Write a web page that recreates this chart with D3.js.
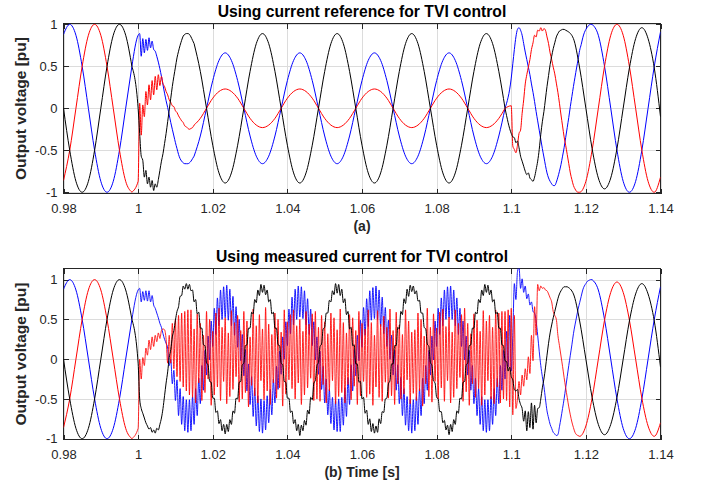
<!DOCTYPE html>
<html>
<head>
<meta charset="utf-8">
<script src="https://cdnjs.cloudflare.com/ajax/libs/d3/7.8.5/d3.min.js"></script>
<style>
  body { margin: 0; background: #fff; }
  svg { display: block; }
  text { font-family: "Liberation Sans", Arial, Helvetica, sans-serif; }
</style>
</head>
<body>
<svg id="chart" width="701" height="489"></svg>
<script>
// ---------------------------------------------------------------
// Three-phase output voltage [pu] around a fault (1.0 s - 1.1 s).
// Samples are stored per segment: [first sample index, step, values].
// Sample time = T0 + index * step.
// ---------------------------------------------------------------
const T0 = 0.98;
const COARSE = 1 / 600;   // 30 deg of the 50 Hz fundamental
const FINE = 1 / 2400;    // 7.5 deg, resolves the switching ripple

const xTicks = [0.98, 1, 1.02, 1.04, 1.06, 1.08, 1.1, 1.12, 1.14];
const yTicks = [-1, -0.5, 0, 0.5, 1];

const titles = ["Using current reference for TVI control", "Using measured current for TVI control"];
const xLabels = ["(a)", "(b) Time [s]"];
const yLabel = "Output voltage [pu]";

// pre-fault, 0.98 s .. 0.9983 s (both cases)
const preBlue = [0.88, 1, 0.87, 0.5, 0, -0.5, -0.87, -1, -0.87, -0.5, 0, 0.5];
const preRed = [-0.86, -0.5, 0, 0.5, 0.87, 1, 0.87, 0.5, 0, -0.5, -0.87, -1];
const preBlack = [0, -0.5, -0.87, -1, -0.87, -0.5, 0, 0.5, 0.87, 1, 0.87, 0.5];

// ---------- (a) current reference ----------
const aBlueOnset = [0.87, 0.89, 0.62, 0.83, 0.66, 0.82, 0.69, 0.84, 0.72, 0.80, 0.70, 0.68, 0.62, 0.55, 0.47, 0.38, 0.28, 0.18, 0.09, 0.01, -0.08, -0.17, -0.25, -0.33, -0.41, -0.48, -0.55, -0.60, -0.63, -0.65, -0.66, -0.66, -0.66, -0.65, -0.63, -0.60, -0.57];
const aRedOnset = [-0.87, 0.06, -0.32, 0.04, -0.10, 0.20, 0.04, 0.28, 0.10, 0.33, 0.16, 0.38, 0.22, 0.40, 0.27, 0.38, 0.29, 0.26, 0.20, 0.16, 0.10, 0.07, 0.03, 0.02, -0.03, -0.05, -0.09, -0.12, -0.15, -0.17, -0.21, -0.22, -0.24, -0.25, -0.24, -0.23, -0.20];
const aBlackOnset = [0, -0.30, -0.57, -0.62, -0.82, -0.74, -0.90, -0.82, -0.94, -0.86, -0.98, -0.90, -0.94, -0.85, -0.74, -0.63, -0.54, -0.42, -0.30, -0.16, -0.02, 0.12, 0.26, 0.38, 0.49, 0.60, 0.68, 0.75, 0.81, 0.86, 0.88, 0.89, 0.89, 0.88, 0.85, 0.81, 0.77];

const aBlueFault = [-0.33, 0, 0.33, 0.57, 0.66, 0.57, 0.33, 0, -0.33, -0.57, -0.66, -0.57,
  -0.33, 0, 0.33, 0.57, 0.66, 0.57, 0.33, 0, -0.33, -0.57, -0.66, -0.57,
  -0.33, 0, 0.33, 0.57, 0.66, 0.57, 0.33, 0, -0.33, -0.57, -0.66, -0.57,
  -0.33, 0, 0.33, 0.57, 0.66, 0.57, 0.33, 0, -0.33, -0.57, -0.66, -0.57,
  -0.33, 0];
const aRedFault = [-0.12, 0, 0.12, 0.2, 0.23, 0.2, 0.12, 0, -0.12, -0.2, -0.23, -0.2,
  -0.12, 0, 0.12, 0.2, 0.23, 0.2, 0.12, 0, -0.12, -0.2, -0.23, -0.2,
  -0.12, 0, 0.12, 0.2, 0.23, 0.2, 0.12, 0, -0.12, -0.2, -0.23, -0.2,
  -0.12, 0, 0.12, 0.2, 0.23, 0.2, 0.12, 0, -0.12, -0.2, -0.23, -0.2,
  -0.12, 0];
const aBlackFault = [0.44, 0, -0.44, -0.77, -0.89, -0.77, -0.44, 0, 0.44, 0.77, 0.89, 0.77,
  0.44, 0, -0.44, -0.77, -0.89, -0.77, -0.44, 0, 0.44, 0.77, 0.89, 0.77,
  0.44, 0, -0.44, -0.77, -0.89, -0.77, -0.44, 0, 0.44, 0.77, 0.89, 0.77,
  0.44, 0, -0.44, -0.77, -0.89, -0.77, -0.44, 0, 0.44, 0.77, 0.89, 0.77,
  0.44, 0];

const aBlueClear = [0.36, 0.53, 0.70, 0.85, 0.94, 0.96, 0.93, 0.87, 0.77, 0.67, 0.58, 0.49, 0.40, 0.29, 0.19, 0.08, -0.04, -0.15, -0.26, -0.37, -0.48, -0.58, -0.68, -0.77, -0.83, -0.87, -0.90, -0.92, -0.92, -0.88, -0.82, -0.75, -0.67, -0.57, -0.47, -0.35, -0.23, -0.11, 0.02, 0.14, 0.26, 0.37, 0.48, 0.58, 0.69, 0.76, 0.84, 0.90, 0.94, 0.97, 0.99, 1.0, 1.0];
const aRedClear = [0.03, -0.45, -0.49, -0.53, -0.44, -0.30, -0.26, -0.06, 0.10, 0.29, 0.40, 0.49, 0.58, 0.70, 0.78, 0.87, 0.85, 0.93, 0.92, 0.96, 0.92, 0.95, 0.93, 0.85, 0.77, 0.66, 0.58, 0.49, 0.41, 0.30, 0.19, 0.06, -0.08, -0.21, -0.34, -0.44, -0.55, -0.66, -0.77, -0.85, -0.92, -0.96, -0.99, -1.0];
const aBlackClear = [-0.30, -0.34, -0.35, -0.41, -0.39, -0.47, -0.57, -0.63, -0.69, -0.75, -0.79, -0.77, -0.83, -0.85, -0.87, -0.82, -0.73, -0.63, -0.49, -0.31, -0.16, -0.04, 0.11, 0.26, 0.39, 0.52, 0.62, 0.71, 0.78, 0.85, 0.89, 0.92, 0.93, 0.94, 0.94, 0.93, 0.92];

const aBluePost = [0.87, 0.5, 0, -0.5, -0.87, -1, -0.87, -0.5, 0, 0.5, 0.91];
const aRedPost = [-1, -0.87, -0.5, 0, 0.5, 0.87, 1, 0.87, 0.5, 0, -0.5, -0.87, -1, -0.82];
const aBlackPost = [0.83, 0.48, 0, -0.48, -0.83, -0.96, -0.83, -0.48, 0, 0.48, 0.83, 0.96, 0.83, 0.48, -0.1];

// ---------- (b) measured current ----------
const bBlueFault = [
  0.87, 0.89, 0.72, 0.85, 0.74, 0.86, 0.73, 0.86, 0.72, 0.80, 0.68, 0.64, 0.58, 0.52, 0.45, 0.40, 0.32, 0.25, 0.20, 0.14, -0.08, 0.00, -0.31, -0.14, -0.52, -0.26,
  -0.71, -0.37, -0.82, -0.47, -0.90, -0.51, -0.92, -0.51, -0.90, -0.47, -0.82, -0.37, -0.71, -0.24, -0.56, -0.08, -0.39, 0.11, -0.20, 0.29, -0.01, 0.48, 0.16, 0.64, 0.31, 0.77, 0.42, 0.87, 0.50, 0.91,
  0.52, 0.93, 0.49, 0.88, 0.42, 0.79, 0.30, 0.66, 0.15, 0.50, -0.02, 0.31, -0.21, 0.12, -0.40, -0.06, -0.57, -0.22, -0.72, -0.36, -0.84, -0.46, -0.91, -0.50,
  -0.93, -0.52, -0.89, -0.46, -0.80, -0.38, -0.70, -0.25, -0.55, -0.09, -0.38, 0.10, -0.19, 0.28, 0, 0.47, 0.17, 0.63, 0.32, 0.78, 0.43, 0.88, 0.50, 0.92,
  0.53, 0.91, 0.51, 0.86, 0.43, 0.76, 0.31, 0.63, 0.17, 0.47, -0.01, 0.28, -0.19, 0.10, -0.38, -0.09, -0.55, -0.25, -0.70, -0.38, -0.81, -0.48, -0.89, -0.52,
  -0.91, -0.50, -0.91, -0.48, -0.83, -0.36, -0.72, -0.23, -0.57, -0.07, -0.40, 0.12, -0.21, 0.30, -0.02, 0.49, 0.15, 0.65, 0.30, 0.76, 0.41, 0.86, 0.49, 0.90,
  0.51, 0.92, 0.50, 0.87, 0.41, 0.78, 0.32, 0.65, 0.16, 0.49, 0, 0.30, -0.20, 0.11, -0.39, -0.07, -0.56, -0.23, -0.71, -0.37, -0.83, -0.47, -0.90, -0.51,
  -0.93, -0.51, -0.90, -0.47, -0.82, -0.37, -0.71, -0.24, -0.56, -0.08, -0.39, 0.11, -0.20, 0.29, -0.01, 0.48, 0.16, 0.64, 0.31, 0.77, 0.42, 0.87, 0.50, 0.91,
  0.52, 0.92, 0.50, 0.87, 0.42, 0.77, 0.31, 0.64, 0.16, 0.48, -0.01, 0.29, -0.20, 0.11, -0.39, -0.08, -0.56, -0.24, -0.71, -0.37, -0.82, -0.47, -0.90, -0.51,
  -0.92, -0.51, -0.90, -0.47, -0.82, -0.37, -0.71, -0.24, -0.56, -0.08, -0.39, 0.11,
  -0.25, 0.35, -0.10, 0.55, -0.15, 0.30, 0.95, 0.75, 1.10, 1.16, 0.89, 1.01, 0.84, 0.92, 0.76, 0.82, 0.68, 0.72, 0.60, 0.58, 0.48, 0.30, 0.10, -0.08, -0.22, -0.34, -0.50, -0.65, -0.74, -0.82, -0.87, -0.92, -0.94, -0.96, -0.95, -0.85, -0.74, -0.62, -0.50, -0.36, -0.22, -0.08, 0.05, 0.18, 0.32, 0.43, 0.53, 0.63, 0.71, 0.79, 0.87, 0.92, 0.95, 0.98, 0.99, 1.0, 1.0];

const bRedFault = [
  -0.87, 0.00, -0.25, 0.02, -0.08, 0.14, 0.05, 0.24, 0.12, 0.28, 0.16, 0.30, 0.22, 0.33, 0.26, 0.36, 0.38, 0.37, 0.25, -0.05, 0.30, -0.05, 0.45, -0.12, 0.50, -0.22, 0.55, -0.28, 0.58, -0.35, 0.60, -0.40, 0.62,
  -0.45,
  0.62, -0.48, 0.38, -0.55, 0.57, -0.30, 0.45, -0.52, 0.30, -0.42, 0.60, -0.25, 0.50, -0.58, 0.35, -0.45,
  0.58, -0.35, 0.64, -0.52, 0.40, -0.28, 0.52, -0.56, 0.33, -0.47, 0.61, -0.38, 0.46, -0.22, 0.55, -0.54,
  0.36, -0.50, 0.60, -0.42, 0.48, -0.60, 0.28, -0.33, 0.63, -0.46, 0.42, -0.55, 0.56, -0.27, 0.38, -0.51,
  0.65, -0.40, 0.44, -0.57, 0.31, -0.30, 0.58, -0.49, 0.50, -0.36, 0.34, -0.59, 0.62, -0.44, 0.47, -0.26,
  0.56, -0.37, 0.62, -0.50, 0.42, -0.30, 0.50, -0.57, 0.35, -0.45, 0.60, -0.36, 0.44, -0.24, 0.57, -0.52,
  0.60, -0.50, 0.40, -0.53, 0.55, -0.32, 0.47, -0.55, 0.32, -0.40, 0.58, -0.27, 0.52, -0.56, 0.37, -0.47,
  0.63, -0.42, 0.46, -0.55, 0.33, -0.32, 0.56, -0.51, 0.52, -0.34, 0.36, -0.57, 0.60, -0.46, 0.45, -0.28,
  0.38, -0.48, 0.62, -0.44, 0.46, -0.58, 0.30, -0.35, 0.61, -0.48, 0.44, -0.53, 0.54, -0.29, 0.40, -0.49,
  0.63, -0.46, 0.36, -0.57, 0.59, -0.31, 0.43, -0.50, 0.31, -0.44, 0.62, -0.26, 0.48, -0.56, 0.34, -0.43,
  0.37, -0.52, 0.58, -0.40, 0.50, -0.59, 0.29, -0.31, 0.64, -0.47, 0.40, -0.54, 0.57, -0.28, 0.39, -0.50,
  0.59, -0.36, 0.63, -0.53, 0.41, -0.27, 0.53, -0.55, 0.34, -0.48, 0.62, -0.37, 0.45, -0.23, 0.56, -0.53,
  0.64, -0.41, 0.45, -0.58, 0.32, -0.31, 0.57, -0.48, 0.49, -0.37, 0.35, -0.58, 0.61, -0.45, 0.48, -0.27,
  0.55, -0.50, 0.40, -0.56, 0.62, -0.35, 0.58, -0.55, 0.60, -0.50,
  0.60, -0.52, 0.62, -0.60, 0.64, -0.70, 0.55, -0.62, -0.50, -0.28, -0.45, -0.20, -0.34, -0.12, -0.26, 0.03, -0.18, 0.30, -0.02, 0.66, 0.30, 0.94, 0.86, 0.92, 0.89, 0.90, 0.87, 0.86, 0.82, 0.77, 0.72, 0.60, 0.55, 0.50, 0.30, 0.17, 0.04, -0.09, -0.23, -0.36, -0.48, -0.60, -0.70, -0.79, -0.86, -0.92, -0.95, -0.96];

const bBlackFault = [
  -0.05, -0.50, -0.62, -0.68, -0.74, -0.80, -0.84, -0.88, -0.86, -0.92, -0.89, -0.93, -0.87, -0.89, -0.82, -0.74, -0.62, -0.46, -0.30, -0.16, 0.02, 0.12, 0.28, 0.36, 0.49, 0.60, 0.66, 0.79, 0.80, 0.92, 0.88, 0.95, 0.88, 0.94, 0.86, 0.87, 0.72,
  0.75, 0.57, 0.59, 0.39, 0.39, 0.18, 0.17, -0.05, -0.07, -0.28, -0.29, -0.49, -0.49, -0.67, -0.65, -0.81, -0.76, -0.90, -0.82,
  -0.94, -0.82, -0.91, -0.76, -0.82, -0.65, -0.68, -0.49, -0.50, -0.29, -0.28, -0.07, -0.05, 0.17, 0.18, 0.39, 0.39, 0.59, 0.57, 0.75, 0.71, 0.87, 0.80, 0.94,
  0.84, 0.93, 0.81, 0.87, 0.72, 0.75, 0.57, 0.59, 0.39, 0.39, 0.18, 0.17, -0.05, -0.07, -0.28, -0.29, -0.49, -0.49, -0.67, -0.65, -0.81, -0.76, -0.90, -0.82,
  -0.96, -0.83, -0.90, -0.77, -0.83, -0.64, -0.69, -0.48, -0.51, -0.30, -0.27, -0.08, -0.04, 0.16, 0.19, 0.38, 0.40, 0.58, 0.58, 0.74, 0.72, 0.86, 0.81, 0.95,
  0.83, 0.94, 0.80, 0.88, 0.71, 0.76, 0.56, 0.60, 0.38, 0.40, 0.17, 0.18, -0.06, -0.06, -0.29, -0.28, -0.50, -0.48, -0.68, -0.64, -0.82, -0.75, -0.91, -0.81,
  -0.93, -0.84, -0.92, -0.75, -0.81, -0.66, -0.67, -0.50, -0.49, -0.31, -0.27, -0.06, -0.06, 0.17, 0.17, 0.40, 0.38, 0.60, 0.56, 0.76, 0.70, 0.88, 0.79, 0.93,
  0.85, 0.92, 0.82, 0.86, 0.73, 0.74, 0.58, 0.58, 0.40, 0.38, 0.19, 0.16, -0.04, -0.08, -0.27, -0.30, -0.48, -0.50, -0.66, -0.66, -0.80, -0.77, -0.89, -0.83,
  -0.95, -0.82, -0.91, -0.76, -0.82, -0.65, -0.68, -0.49, -0.50, -0.29, -0.28, -0.07, -0.05, 0.17, 0.18, 0.39, 0.39, 0.59, 0.57, 0.75, 0.71, 0.87, 0.80, 0.94,
  0.84, 0.93, 0.81, 0.87, 0.72, 0.75, 0.57, 0.59, 0.39, 0.39, 0.18, 0.17,
  -0.02, -0.03, -0.15, -0.10, -0.22, -0.26, -0.38, -0.40, -0.38, -0.50, -0.57, -0.62, -0.78, -0.65, -0.90, -0.66, -0.86, -0.55, -0.88, -0.58, -0.80, -0.62, -0.61, -0.50, -0.36, -0.25, -0.11, 0.05, 0.20, 0.33, 0.43, 0.52, 0.60, 0.68, 0.76, 0.82, 0.86, 0.89, 0.91, 0.91, 0.91];

const bBluePost = [0.87, 0.5, 0, -0.5, -0.87, -1, -0.87, -0.5, 0, 0.5, 0.91];
const bRedPost = [-0.97, -0.84, -0.49, 0, 0.49, 0.84, 0.97, 0.84, 0.49, 0, -0.49, -0.84, -0.97, -0.80];
const bBlackPost = [0.82, 0.48, 0, -0.48, -0.82, -0.95, -0.82, -0.48, 0, 0.48, 0.82, 0.95, 0.82, 0.48, -0.1];

// segment lists: [first index, step, values]
const panelSeries = [
  [
    { color: "#0000ff", segs: [[0, COARSE, preBlue], [48, FINE, aBlueOnset], [22, COARSE, aBlueFault], [288, FINE, aBlueClear], [86, COARSE, aBluePost]] },
    { color: "#ff0000", segs: [[0, COARSE, preRed], [48, FINE, aRedOnset], [22, COARSE, aRedFault], [288, FINE, aRedClear], [83, COARSE, aRedPost]] },
    { color: "#000000", segs: [[0, COARSE, preBlack], [48, FINE, aBlackOnset], [22, COARSE, aBlackFault], [288, FINE, aBlackClear], [82, COARSE, aBlackPost]] }
  ],
  [
    { color: "#0000ff", rippleWidth: 0.9, segs: [[0, COARSE, preBlue], [48, FINE, bBlueFault], [86, COARSE, bBluePost]] },
    { color: "#ff0000", rippleWidth: 0.85, segs: [[0, COARSE, preRed], [48, FINE, bRedFault], [83, COARSE, bRedPost]] },
    { color: "#000000", rippleWidth: 1, segs: [[0, COARSE, preBlack], [48, FINE, bBlackFault], [82, COARSE, bBlackPost]] }
  ]
];

// one list of [t, v] points per segment; each piece starts where the previous one ended
function toPieces(segs) {
  const pieces = [];
  let last = null;
  segs.forEach(([from, step, vals]) => {
    const pts = last ? [last] : [];
    vals.forEach((v, i) => pts.push([T0 + (from + i) * step, v]));
    pieces.push({ step, pts });
    last = pts[pts.length - 1];
  });
  return pieces;
}

// ---------------------------------------------------------------
const svg = d3.select("#chart");
const AXIS = "#262626", GRID = "#dcdcdc";
const left = 63.5, right = 660.5;
const x = d3.scaleLinear().domain([0.98, 1.14]).range([left, right]);
const fmt = v => String(+v.toFixed(2));

const layout = [
  { top: 23.5, bottom: 193.5, yDomain: [-1.015, 1.01] },
  { top: 268.5, bottom: 439.5, yDomain: [-1.01, 1.14] }
];

layout.forEach((L, pi) => {
  const y = d3.scaleLinear().domain(L.yDomain).range([L.bottom, L.top]);
  const g = svg.append("g");
  const h = L.bottom - L.top, w = right - left;

  // grid
  g.append("g").attr("transform", `translate(0,${L.bottom})`)
    .call(d3.axisBottom(x).tickValues(xTicks).tickSize(-h).tickFormat(""))
    .call(s => { s.select(".domain").remove(); s.selectAll("line").attr("stroke", GRID).attr("shape-rendering", "crispEdges"); });
  g.append("g").attr("transform", `translate(${left},0)`)
    .call(d3.axisLeft(y).tickValues(yTicks).tickSize(-w).tickFormat(""))
    .call(s => { s.select(".domain").remove(); s.selectAll("line").attr("stroke", GRID).attr("shape-rendering", "crispEdges"); });

  // box and inward ticks
  const styleAxis = s => {
    s.select(".domain").remove();
    s.selectAll("line").attr("stroke", AXIS).attr("shape-rendering", "crispEdges");
    s.selectAll("text").attr("fill", AXIS).style("font-size", "13px")
      .style("font-family", '"Liberation Sans", Arial, sans-serif');
  };
  g.append("g").attr("transform", `translate(0,${L.bottom})`)
    .call(d3.axisBottom(x).tickValues(xTicks).tickSizeInner(-5).tickSizeOuter(0).tickFormat(fmt))
    .call(styleAxis)
    .call(s => s.selectAll("text").attr("y", 19.5).attr("dy", null));
  g.append("g").attr("transform", `translate(0,${L.top})`)
    .call(d3.axisTop(x).tickValues(xTicks).tickSizeInner(-5).tickSizeOuter(0).tickFormat(""))
    .call(styleAxis);
  g.append("g").attr("transform", `translate(${left},0)`)
    .call(d3.axisLeft(y).tickValues(yTicks).tickSizeInner(-5).tickSizeOuter(0).tickPadding(6).tickFormat(v => String(v)))
    .call(styleAxis);
  g.append("g").attr("transform", `translate(${right},0)`)
    .call(d3.axisRight(y).tickValues(yTicks).tickSizeInner(-5).tickSizeOuter(0).tickFormat(""))
    .call(styleAxis);
  g.append("rect").attr("x", left).attr("y", L.top).attr("width", w).attr("height", h)
    .attr("fill", "none").attr("stroke", AXIS).attr("shape-rendering", "crispEdges");

  // waveforms
  const clipId = "clip" + pi;
  svg.append("clipPath").attr("id", clipId).append("rect")
    .attr("x", left).attr("y", L.top).attr("width", w).attr("height", h);
  const line = d3.line().x(d => x(d[0])).y(d => y(d[1])).curve(d3.curveMonotoneX);
  const lg = g.append("g").attr("clip-path", `url(#${clipId})`);
  panelSeries[pi].forEach(s => {
    toPieces(s.segs).forEach(p => {
      lg.append("path").attr("d", line(p.pts))
        .attr("fill", "none").attr("stroke", s.color)
        .attr("stroke-linejoin", "round")
        .attr("stroke-width", p.step === FINE && s.rippleWidth ? s.rippleWidth : 1);
    });
  });

  // labels
  const cx = (left + right) / 2;
  g.append("text").attr("x", cx).attr("y", L.top - 6.5).attr("text-anchor", "middle")
    .style("font-size", "15.7px").style("font-weight", "bold").attr("fill", "#000").text(titles[pi]);
  g.append("text").attr("x", cx).attr("y", L.bottom + (pi === 0 ? 37.5 : 37)).attr("text-anchor", "middle")
    .style("font-size", "14px").style("font-weight", "bold").attr("fill", AXIS).text(xLabels[pi]);
  g.append("text").attr("transform", `translate(26,${(L.top + L.bottom) / 2}) rotate(-90)`)
    .attr("text-anchor", "middle").style("font-size", "15.5px").style("font-weight", "bold")
    .attr("fill", AXIS).text(yLabel);
});
</script>
</body>
</html>
